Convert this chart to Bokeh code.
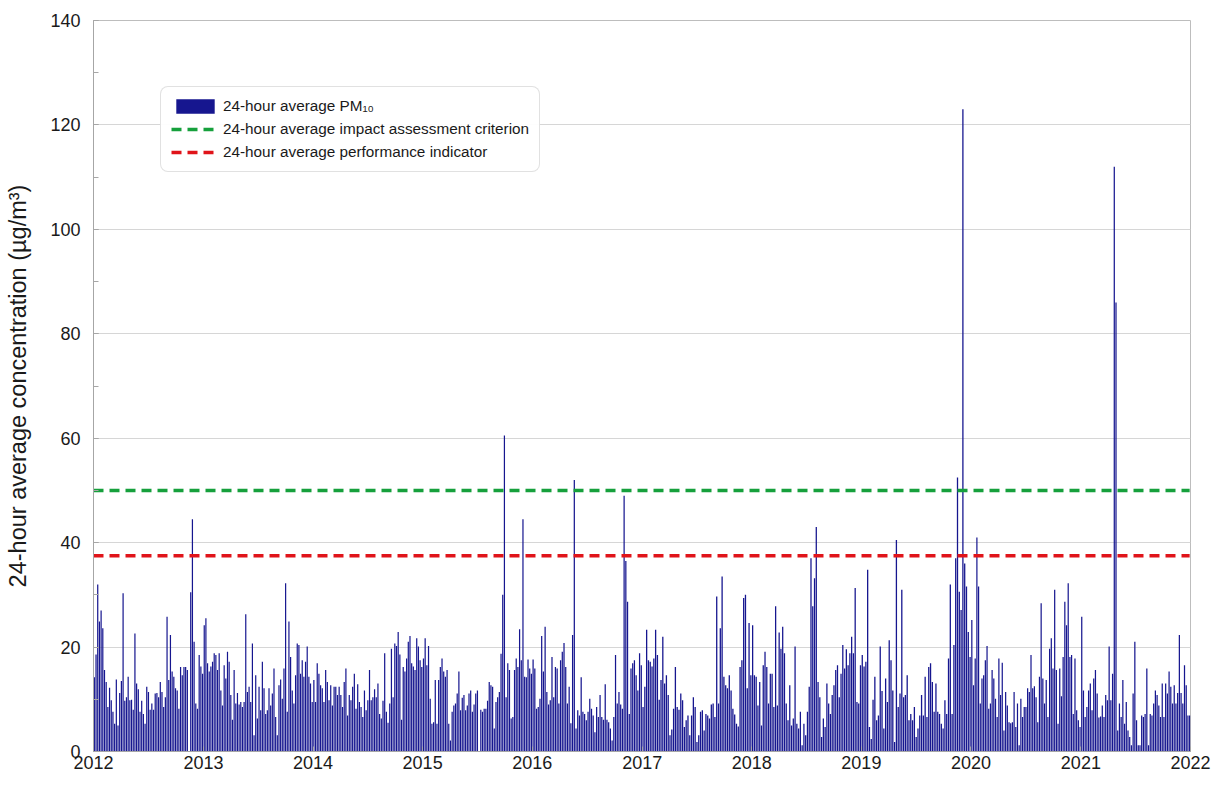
import pandas as pd
from bokeh.plotting import figure
from bokeh.models import (Range1d, FixedTicker, CustomJSTickFormatter, Legend, LegendItem,
                          ColumnDataSource, SingleIntervalTicker)
from bokeh.embed import file_html
from bokeh.resources import INLINE

# ---------------- data ----------------
years = [2012, 2013, 2014, 2015, 2016, 2017, 2018, 2019, 2020, 2021]

pm10_2012 = [14.2, 18.6, 32, 24.9, 27, 23.6, 15.6, 13.3, 8.5, 12.2, 9.8, 7.6, 5.3, 13.8, 5, 11.2, 13.5, 30.3,
             9.7, 10.4, 14.3, 9.8, 9.9, 8, 22.6, 13, 11.9, 7.6, 9.7, 7.2, 5.3, 12.4, 11.4, 8, 9.2, 8, 11.1,
             11.2, 10.4, 13.3, 11.4, 8.5, 10.4, 25.8, 13.7, 22.3, 15.3, 14.3, 12.1, 11.7, 8.2, 16.2, 14.6,
             16.2, 16.2, 15.6, 0, 30.5, 44.5, 21, 9.2, 8.2, 18.5, 16.3, 14.9]
pm10_2013 = [24.2, 25.5, 16.9, 15.3, 16.3, 17.2, 18.8, 18.5, 15.6, 18.8, 11.7, 8.8, 16.5, 14, 19.1, 17.2,
             10.8, 6.1, 15.6, 9.2, 11.2, 9, 9.5, 8.5, 9.5, 26.3, 11.4, 12.4, 9.5, 20.7, 3.1, 14.6, 6.3,
             12.4, 7.9, 17.2, 12.1, 7.2, 7.9, 12.1, 8.8, 11.1, 15.9, 6.6, 3.1, 12.7, 13.8, 10.1, 15.9,
             32.2, 7.6, 24.9, 18.1, 11.7, 9.2, 14.6, 20.7, 20.4, 14.9, 17.5, 14.3, 17.2, 20.1, 14.3, 13, 9.5]
pm10_2014 = [13.7, 9.5, 16.9, 14.9, 12.7, 12.1, 9.5, 15.6, 13.3, 9.8, 12.7, 8.8, 12.4, 12.4, 10.8, 12.4,
             10.8, 8.5, 13.3, 15.9, 6.9, 10.8, 9.8, 12.4, 14.9, 8.2, 12.9, 9.5, 8.5, 6.6, 11.7, 7.9, 9.8,
             15.6, 9.8, 10.4, 11.9, 10.4, 13, 7.2, 6.3, 9.7, 18.8, 7.6, 5.5, 9.2, 19.7, 10.4, 20.7, 20.2,
             22.9, 18.6, 6.1, 16.2, 15.3, 17.8, 21, 22.1, 16.9, 16.3, 15.6, 21.7, 20.1, 17.5, 16.2]
pm10_2015 = [17.8, 21.7, 16.5, 20.2, 10.1, 5.3, 5.6, 13.7, 5.3, 13.7, 16.2, 17.8, 15.3, 14.3, 15.6, 5.3,
             2.1, 7.6, 8.8, 9.2, 11.1, 15.3, 7.9, 10.3, 10.8, 7.9, 8.8, 11.1, 11.7, 7.6, 9, 11.1, 11.7, 0,
             8, 7.6, 8.2, 8.2, 9.7, 13.3, 12.7, 12.4, 4.4, 9.5, 10.4, 11.4, 18.7, 30, 60.5, 10.4, 16.9,
             15.6, 6.3, 6.6, 15.6, 17.8, 16.2, 23.4, 17.5, 44.5, 14.3, 14.2, 17.6, 15.9, 14.9]
pm10_2016 = [17.6, 15.9, 8.2, 8.5, 10.1, 22.1, 15.3, 23.9, 11.4, 9, 9.8, 18.1, 10.4, 16.2, 15.9, 9.2,
             17.5, 19.1, 20.8, 16.2, 9.2, 12.4, 5.4, 22.3, 52, 4.4, 7.9, 6.9, 14.2, 7.6, 7.2, 6, 7.6,
             10.1, 8.2, 6.9, 3.7, 8.5, 6.6, 10.8, 6.6, 6.1, 12.9, 6.1, 5.6, 4.4, 2.1, 6.6, 18.5, 9.2,
             11.4, 9, 8.2, 49, 36.5, 28.7, 7.2, 15.9, 16.9, 17.5, 14.6, 11.7, 18.8, 16.5]
pm10_2017 = [8.5, 12.4, 23.3, 17.5, 17.2, 16.3, 17.8, 23.3, 18.5, 9.9, 13.7, 22, 13, 14.6, 10.8, 3.1,
             4.2, 8.2, 16.2, 8.5, 8, 11.1, 9.8, 4.7, 6, 6.9, 3.1, 6.9, 10.4, 8.5, 1.8, 3.1, 7.6, 7.9, 4,
             7.2, 6.9, 6.3, 9, 9.2, 6.6, 29.7, 9.2, 23.6, 33.5, 14.3, 12.7, 12.1, 14.6, 11.7, 8.2, 7.1,
             5.3, 4.8, 16.2, 17.5, 29.4, 30, 12.1, 24.6, 14.6]
pm10_2018 = [24.2, 14.6, 14.3, 8.8, 13.3, 5, 16.5, 19.1, 16.2, 9.2, 14.9, 14.9, 8.5, 27.8, 8.8, 22.8,
             19.7, 23.9, 18.8, 9.2, 6, 12.7, 5, 6.3, 20.1, 5.3, 4.4, 7.6, 1.2, 5.3, 3.1, 7.6, 12.4, 37,
             27.8, 33.2, 43, 13.3, 10.4, 2.8, 6.3, 4.7, 13, 9.2, 7.2, 10.8, 12.7, 15.6, 16.5, 10.4, 14.9,
             20.4, 15.9, 19.6, 16.5, 18.8, 22, 18.8, 31.3, 9.5, 9.2, 16.5]
pm10_2019 = [18.5, 16.3, 17.2, 34.8, 4.7, 2.4, 9.9, 14.3, 6, 6.9, 20.1, 11.6, 4.4, 14, 9.5, 21.3, 17.5,
             11.7, 1.8, 40.5, 8.5, 11.1, 31, 10.4, 10.8, 14.6, 6, 7.2, 6, 8.5, 2.8, 4.4, 6.9, 10.8, 6.9,
             14.3, 6.6, 16.2, 16.9, 13.3, 7.6, 13, 7.6, 7.2, 5.3, 4.4, 9.8, 7.2, 17.8, 32, 7.2, 20.4, 37,
             52.5, 30.6, 27.1, 123, 36, 31.6, 22.9, 18.1]
pm10_2020 = [25.2, 12.7, 17.8, 41, 31.6, 9.2, 14, 14.6, 17.5, 20.2, 8.2, 9.2, 15.6, 14, 10.1, 6.6, 17.8,
             10.8, 17, 4, 11.4, 8.8, 5.6, 5.4, 5.6, 11.4, 4.7, 9.2, 1.2, 10.1, 6.6, 8.5, 8.5, 12.1, 11.4,
             18.5, 12.1, 12.5, 10.4, 5.6, 14.3, 28.4, 14, 9.2, 13.7, 6.6, 19.7, 21.7, 15.9, 31, 15.6, 5.3,
             15.9, 10.6, 18.1, 28.7, 24.2, 32.2, 18.1, 18.5, 7.2, 17.8, 7.9, 6, 4.7]
pm10_2021 = [25.8, 11.7, 6.6, 8.5, 11.7, 13, 7.9, 14, 15.6, 11.1, 6.5, 6.7, 8.8, 6.6, 10.8, 9.8, 20.1,
             9.8, 14.9, 112, 86, 4, 9.2, 6.6, 13.7, 5.3, 9.5, 4, 2.8, 1.2, 11.1, 21, 6, 1.2, 1.2, 6.9,
             6.6, 7.2, 15.9, 1.2, 7.2, 6.9, 9.2, 11.7, 10.8, 8.8, 6.6, 13, 6.6, 13, 11.1, 15.3, 12.4, 9.2,
             12.7, 9.2, 11.2, 22.3, 11.2, 9.2, 16.5, 12.7, 6.9, 6.9]

pm10_by_year = [pm10_2012, pm10_2013, pm10_2014, pm10_2015, pm10_2016,
                pm10_2017, pm10_2018, pm10_2019, pm10_2020, pm10_2021]

impact_criterion = 50.0
performance_indicator = 37.5
tick_years = [2012, 2013, 2014, 2015, 2016, 2017, 2018, 2019, 2020, 2021, 2022]

series_label = "24-hour average PM\u2081\u2080"
criterion_label = "24-hour average impact assessment criterion"
indicator_label = "24-hour average performance indicator"
y_title = "24-hour average concentration (\u00b5g/m\u00b3)"

# ---------------- build sample dates (samples spread evenly over each year) ----------------
dates, vals, widths = [], [], []
for yr, arr in zip(years, pm10_by_year):
    start = pd.Timestamp(f"{yr}-01-01")
    end = pd.Timestamp(f"{yr + 1}-01-01")
    step = (end - start) / len(arr)
    for i, v in enumerate(arr):
        dates.append(start + step * (i + 0.5))
        vals.append(v)
        widths.append(step.total_seconds() * 1000 * 0.72)

src = ColumnDataSource(dict(date=pd.to_datetime(dates), pm10=vals, w=widths))

x_start = pd.Timestamp(f"{tick_years[0]}-01-01")
x_end = pd.Timestamp(f"{tick_years[-1]}-01-01")

FONT = "Liberation Sans"

p = figure(frame_width=1097, frame_height=731, x_axis_type="datetime",
           x_range=Range1d(x_start, x_end), y_range=Range1d(0, 140),
           output_backend="svg", toolbar_location=None,
           min_border_left=93, min_border_top=20, min_border_right=24, min_border_bottom=37)

bars = p.vbar(x="date", top="pm10", width="w", bottom=0, source=src,
              fill_color="#16168f", line_color=None)

line_x = [dates[0] - (dates[1] - dates[0]) / 2, dates[-1]]
crit = p.line(x=line_x, y=[impact_criterion] * 2,
              line_color="#16a03c", line_width=3.5, line_dash="10 6")
ind = p.line(x=line_x, y=[performance_indicator] * 2,
             line_color="#e0141a", line_width=3.5, line_dash="10 6")

# axes
p.xaxis.ticker = FixedTicker(ticks=[pd.Timestamp(f"{y}-01-01").value // 10**6 for y in tick_years])
p.xaxis.formatter = CustomJSTickFormatter(code="return String(new Date(tick).getUTCFullYear());")
p.yaxis.ticker = SingleIntervalTicker(interval=20, num_minor_ticks=2)

for ax in (p.xaxis[0], p.yaxis[0]):
    ax.axis_line_color = "#a6a6a6"
    ax.major_tick_line_color = "#a6a6a6"
    ax.minor_tick_line_color = "#a6a6a6"
    ax.major_tick_in = 5
    ax.major_tick_out = 0
    ax.minor_tick_in = 5
    ax.minor_tick_out = 0
    ax.major_label_text_font = FONT
    ax.major_label_text_font_size = "18px"
    ax.major_label_text_color = "#1a1a1a"
p.xaxis.minor_tick_line_color = None
p.xaxis.major_label_standoff = 4
p.yaxis.major_label_standoff = 13
p.yaxis.axis_label = y_title
p.yaxis.axis_label_text_font = FONT
p.yaxis.axis_label_text_font_size = "23.5px"
p.yaxis.axis_label_text_font_style = "normal"
p.yaxis.axis_label_text_color = "#1a1a1a"
p.yaxis.axis_label_standoff = 16

p.xgrid.grid_line_color = None
p.ygrid.grid_line_color = "#d6d6d6"
p.outline_line_color = "#bdbdbd"
p.background_fill_color = "white"

legend = Legend(items=[LegendItem(label=series_label, renderers=[bars]),
                       LegendItem(label=criterion_label, renderers=[crit]),
                       LegendItem(label=indicator_label, renderers=[ind])],
                location=(67, 579))
legend.label_text_font = FONT
legend.label_text_font_size = "15.3px"
legend.label_text_color = "#1a1a1a"
legend.glyph_width = 48
legend.glyph_height = 18
legend.label_height = 14
legend.label_standoff = 4
legend.spacing = 5
legend.padding = 10
legend.border_line_color = "#c4c4c4"
legend.border_line_width = 1
if "border_radius" in Legend.properties():
    legend.border_radius = 8
p.add_layout(legend)

open("out.html", "w").write(file_html(p, INLINE))
